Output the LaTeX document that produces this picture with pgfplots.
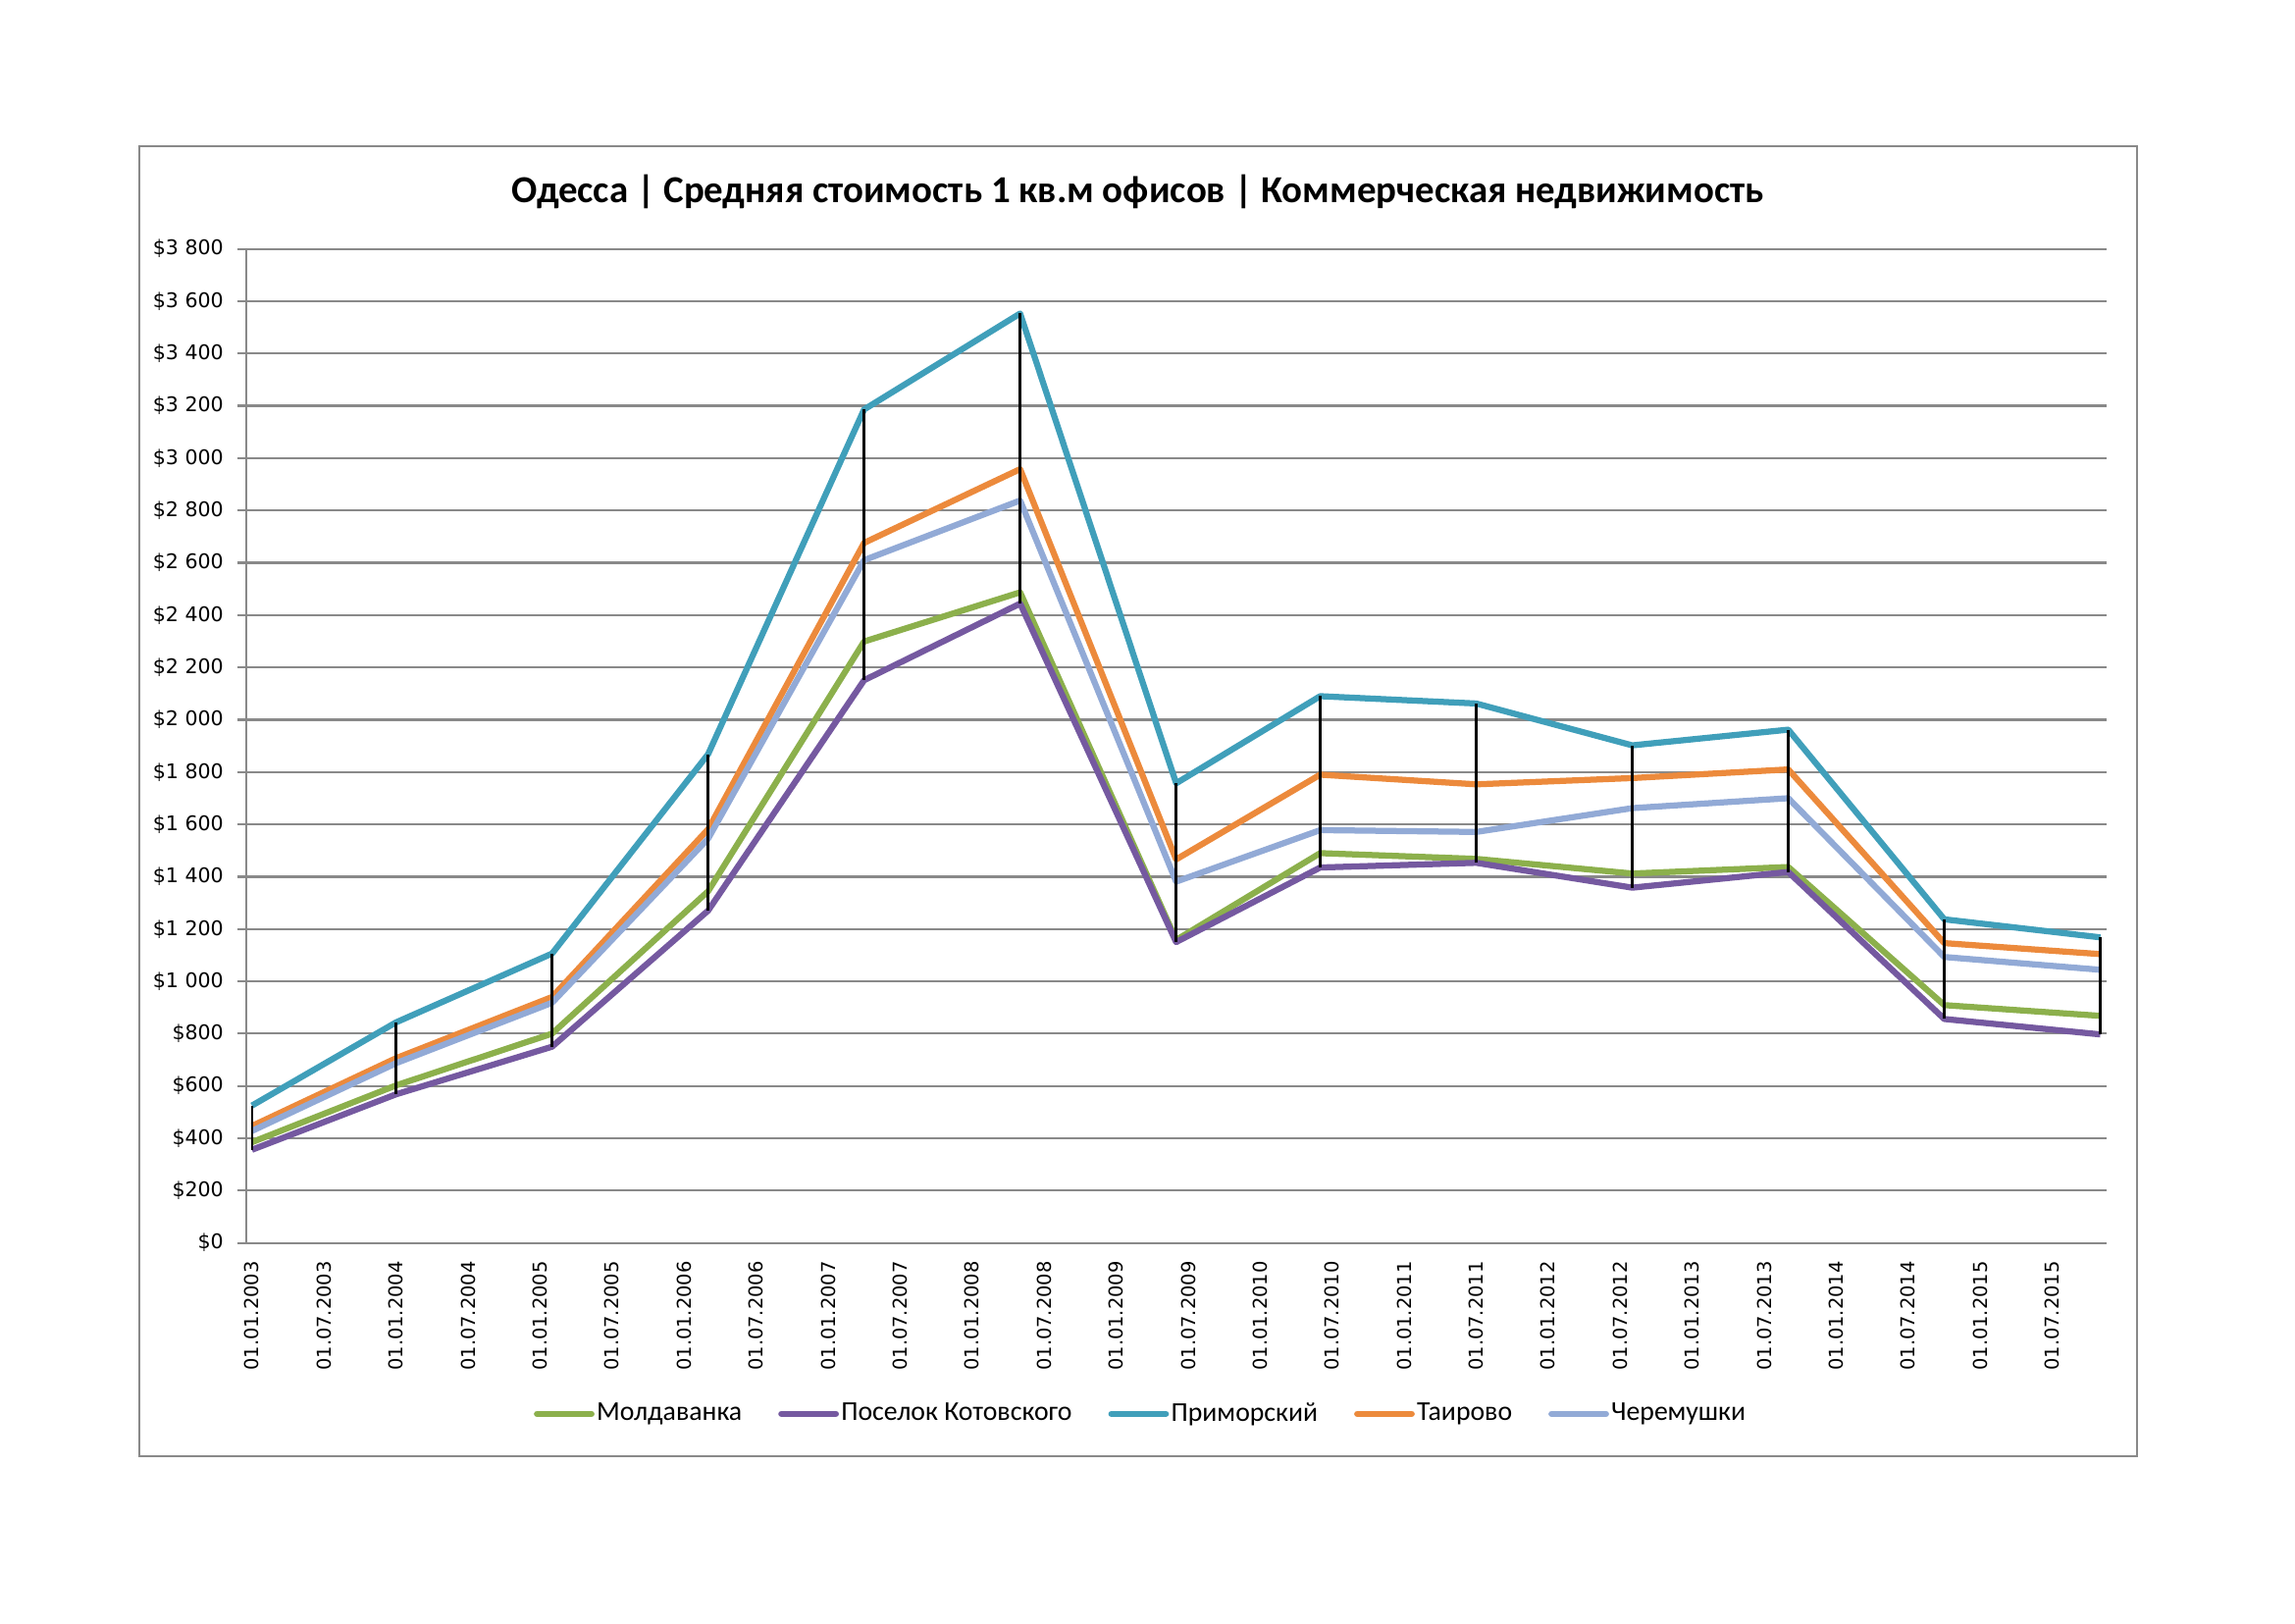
\documentclass[border=0pt]{standalone}
\usepackage{fontspec}
\setmainfont{Carlito}
\newfontfamily\dejavu{DejaVu Sans}
\usepackage{pgfplots}
\pgfplotsset{compat=1.18}
\usepackage{pgfplotstable}

\definecolor{cgreen}{HTML}{8CB04C}
\definecolor{cpurple}{HTML}{7559A0}
\definecolor{cteal}{HTML}{409FBA}
\definecolor{corange}{HTML}{EC8A3C}
\definecolor{clblue}{HTML}{92AAD6}
\definecolor{cgrid}{HTML}{898989}

\pgfplotstableread{
x mold kot prim tair cher
0 385 356 525 447 428
12 602 568 843 706 687
25 800 750 1106 940 918
38 1344 1270 1868 1581 1545
51 2299 2151 3186 2676 2610
64 2487 2444 3553 2958 2838
77 1158 1150 1757 1466 1381
89 1490 1435 2090 1790 1578
102 1468 1453 2062 1753 1571
115 1412 1358 1902 1777 1662
128 1437 1418 1962 1810 1700
141 909 856 1237 1146 1093
154 868 797 1168 1104 1044
}\datatable

\begin{document}
\begin{tikzpicture}
\useasboundingbox (0,0) rectangle (842.04pt,595.44pt);
\draw[color=cgrid, line width=0.7pt] (51.0pt,61.2pt) rectangle (784.0pt,541.7pt);
\node[font=\bfseries\fontsize{14}{16}\selectfont] at (417.5pt,525.2pt) {Одесса | Средняя стоимость 1 кв.м офисов | Коммерческая недвижимость};
\begin{axis}[
  at={(90.25pt,139.46pt)}, anchor=south west,
  width=682.56pt, height=364.68pt, scale only axis,
  xmin=-0.5, xmax=154.5, ymin=0, ymax=3800,
  ytick={0,200,...,3800},
  xtick={0,6,...,150},
  xticklabels={01.01.2003,01.07.2003,01.01.2004,01.07.2004,01.01.2005,01.07.2005,01.01.2006,01.07.2006,01.01.2007,01.07.2007,01.01.2008,01.07.2008,01.01.2009,01.07.2009,01.01.2010,01.07.2010,01.01.2011,01.07.2011,01.01.2012,01.07.2012,01.01.2013,01.07.2013,01.01.2014,01.07.2014,01.01.2015,01.07.2015},
  axis x line*=bottom, axis y line*=left,
  axis line style={cgrid, line width=0.8pt, -},
  ymajorgrids, grid style={cgrid, line width=0.8pt},
  x tick style={draw=none},
  y tick style={cgrid, line width=0.8pt},
  tick align=outside, major tick length=3.2pt,
  ticklabel style={font=\dejavu\fontsize{7}{8.4}\selectfont, text=black},
  yticklabel style={font=\dejavu\fontsize{7.4}{8.6}\selectfont, xshift=-1.5pt},
  xticklabel style={rotate=90, anchor=east},
  yticklabel={\$\pgfmathprintnumber{\tick}},
  /pgf/number format/assume math mode=true,
  /pgf/number format/1000 sep={\ },
  legend columns=5,
  legend style={at={(0.481,-0.172)}, anchor=center, draw=none, fill=none,
    font=\fontsize{10}{12}\selectfont,
    nodes={inner sep=0.8pt},
    /tikz/every even column/.append style={column sep=12.5pt}},
  legend image code/.code={\draw[#1, line cap=round] (0pt,0pt) -- (20pt,0pt);},
  every axis plot/.append style={line width=2.25pt, line join=round},
]
\addplot[cgreen] table[x=x, y=mold] {\datatable};
\addlegendentry{Молдаванка}
\addplot[cpurple] table[x=x, y=kot] {\datatable};
\addlegendentry{Поселок Котовского}
\addplot[cteal] table[x=x, y=prim] {\datatable};
\addlegendentry{Приморский}
\addplot[corange] table[x=x, y=tair] {\datatable};
\addlegendentry{Таирово}
\addplot[clblue] table[x=x, y=cher] {\datatable};
\addlegendentry{Черемушки}
\addplot[draw=none, mark=none, forget plot,
  error bars/.cd, y dir=plus, y explicit, error mark=none,
  error bar style={black, line width=0.9pt}]
  table[x=x, y=kot, y error expr=\thisrow{prim}-\thisrow{kot}] {\datatable};
\end{axis}
\end{tikzpicture}
\end{document}
